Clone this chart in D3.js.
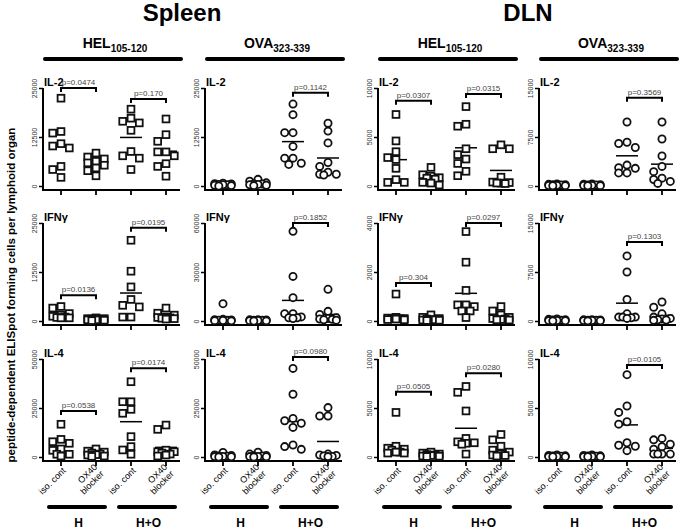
<!DOCTYPE html>
<html>
<head>
<meta charset="utf-8">
<script src="https://d3js.org/d3.v7.min.js"></script>
<style>
body { margin:0; background:#fff; }
svg { display:block; font-family:"Liberation Sans", Arial, sans-serif; }
</style>
</head>
<body>
<script>

// labels
var organs = ["Spleen", "DLN"]
var peptides = [["HEL", "105-120"], ["OVA", "323-339"], ["HEL", "105-120"], ["OVA", "323-339"]]
var rowNames = ["IL-2", "IFN\u03b3", "IL-4"]
var groupLabels = [["iso. cont"], ["OX40", "blocker"], ["iso. cont"], ["OX40", "blocker"]]
var treatLabels = ["H", "H+O"]
var yTitle = "peptide-dependent ELISpot forming cells per lymphoid organ"

// axis maxima per row (Spleen HEL, Spleen OVA, DLN HEL, DLN OVA)
var yMaxIL2 = [25000, 25000, 10000, 15000]
var yMaxIFNg = [25000, 60000, 4000, 15000]
var yMaxIL4 = [50000, 50000, 10000, 10000]

// spots per organ, groups: H iso, H OX40, H+O iso, H+O OX40
var spleenHEL_IL2 = [
  [22400, 13900, 13500, 10800, 9700, 10200, 5000, 4200, 2200],
  [8400, 7400, 6900, 6300, 5900, 5300, 4600, 3900, 2600],
  [19600, 17300, 16500, 16100, 14200, 8800, 7700, 7100, 4200],
  [17100, 13100, 11400, 8700, 8700, 7700, 5700, 5000, 2500]]
var spleenOVA_IL2 = [
  [700, 500, 400, 300, 300, 200, 100, 600, 0],
  [1700, 1200, 800, 500, 300, 200, 100, 400, 600],
  [20900, 18200, 13600, 13600, 10100, 7100, 7100, 5800, 5500],
  [16000, 14000, 11000, 6000, 3500, 3000, 3000, 2800, 5000]]
var dlnHEL_IL2 = [
  [7300, 4600, 3500, 2900, 2700, 1800, 650, 370, 370],
  [1900, 1150, 1000, 850, 800, 700, 370, 300, 100],
  [8100, 6300, 6100, 3800, 3200, 2750, 2300, 1500, 1050],
  [4200, 3800, 3800, 900, 400, 300, 300, 250, 350]]
var dlnOVA_IL2 = [
  [300, 250, 200, 150, 100, 80, 50, 30, 200],
  [300, 250, 200, 150, 100, 80, 50, 30, 150],
  [9800, 6700, 6500, 5900, 3200, 2700, 2000, 2000, 2800],
  [9800, 7200, 4600, 3000, 2200, 1200, 700, 400, 1000]]

var spleenHEL_IFNg = [
  [3700, 3300, 1900, 1500, 1200, 1000, 800, 900, 800],
  [800, 600, 500, 400, 300, 300, 200, 100, 600],
  [20600, 12700, 8700, 5500, 4000, 3600, 1000, 1000],
  [3300, 2000, 1500, 1000, 800, 700, 600, 900, 500]]
var spleenOVA_IFNg = [
  [10600, 1000, 500, 800, 300, 200, 600, 400, 100],
  [800, 600, 500, 400, 300, 200, 100, 700, 0],
  [54900, 27300, 14300, 4500, 4500, 2500, 2000, 2000, 1500],
  [19400, 5900, 4000, 2000, 1500, 1200, 1000, 800, 500]]
var dlnHEL_IFNg = [
  [1100, 150, 100, 100, 80, 60, 50, 120, 90],
  [250, 150, 100, 80, 60, 50, 40, 30, 20],
  [3650, 2400, 1250, 660, 590, 660, 410, 410, 140],
  [590, 410, 250, 150, 100, 80, 60, 50, 40]]
var dlnOVA_IFNg = [
  [300, 200, 150, 100, 80, 60, 40, 20, 250],
  [200, 150, 120, 100, 80, 60, 40, 20, 180],
  [9960, 7500, 3300, 1100, 600, 600, 500, 400, 600],
  [2900, 2100, 1100, 600, 400, 300, 200, 150, 100]]

var spleenHEL_IL4 = [
  [16700, 9000, 7800, 7000, 4100, 3400, 1400, 500, 1400],
  [4100, 3000, 2500, 2000, 1500, 1200, 1000, 500, 300],
  [38400, 28200, 28200, 24300, 22300, 10400, 5300, 3600, 1400],
  [16300, 14100, 2700, 2700, 1000, 500, 3500, 2000, 1500]]
var spleenOVA_IL4 = [
  [2300, 1000, 500, 300, 200, 100, 800, 400, 0],
  [2400, 1500, 800, 500, 300, 200, 100, 0, 600],
  [45200, 32000, 19700, 18500, 17200, 15100, 6100, 5300, 3900],
  [25200, 20900, 20900, 1500, 1000, 500, 800, 300, 200]]
var dlnHEL_IL4 = [
  [4550, 1100, 900, 800, 700, 500, 400, 400, 500],
  [500, 400, 300, 250, 200, 150, 100, 80, 50],
  [7200, 6600, 4700, 1900, 1550, 1450, 1300, 1400, 300],
  [2300, 1750, 1100, 700, 500, 300, 200, 100, 150]]
var dlnOVA_IL4 = [
  [200, 150, 100, 80, 60, 40, 30, 20, 120],
  [200, 150, 100, 80, 60, 40, 30, 20, 120],
  [8400, 5200, 4550, 3600, 3350, 1450, 1200, 1100, 650],
  [1900, 1750, 1300, 1050, 800, 300, 300, 300, 300]]

// p-values: first group of the pair, text, bracket level (data units)
var pSpleenHEL_IL2 = [[0, "p=0.0474", 25000], [2, "p=0.170", 22200]]
var pSpleenOVA_IL2 = [[2, "p=0.1142", 23800]]
var pDlnHEL_IL2 = [[0, "p=0.0307", 8700], [2, "p=0.0315", 9400]]
var pDlnOVA_IL2 = [[2, "p=0.3569", 13500]]
var pSpleenHEL_IFNg = [[0, "p=0.0136", 6600], [2, "p=0.0195", 23800]]
var pSpleenOVA_IFNg = [[2, "p=0.1852", 60000]]
var pDlnHEL_IFNg = [[0, "p=0.304", 1550], [2, "p=0.0297", 4000]]
var pDlnOVA_IFNg = [[2, "p=0.1303", 12100]]
var pSpleenHEL_IL4 = [[0, "p=0.0538", 23500], [2, "p=0.0174", 45300]]
var pSpleenOVA_IL4 = [[2, "p=0.0980", 51000]]
var pDlnHEL_IL4 = [[0, "p=0.0505", 6650], [2, "p=0.0280", 8550]]
var pDlnOVA_IL4 = [[2, "p=0.0105", 9400]]

// table built from the arrays above
var values = [
  [spleenHEL_IL2, spleenOVA_IL2, dlnHEL_IL2, dlnOVA_IL2],
  [spleenHEL_IFNg, spleenOVA_IFNg, dlnHEL_IFNg, dlnOVA_IFNg],
  [spleenHEL_IL4, spleenOVA_IL4, dlnHEL_IL4, dlnOVA_IL4]]
var pvals = [
  [pSpleenHEL_IL2, pSpleenOVA_IL2, pDlnHEL_IL2, pDlnOVA_IL2],
  [pSpleenHEL_IFNg, pSpleenOVA_IFNg, pDlnHEL_IFNg, pDlnOVA_IFNg],
  [pSpleenHEL_IL4, pSpleenOVA_IL4, pDlnHEL_IL4, pDlnOVA_IL4]]
var yMax = [yMaxIL2, yMaxIFNg, yMaxIL4]

// layout
var colX = [43, 205, 378, 539]
var rowZero = [186, 321, 457]
var plotH = 98
var shape = ["square", "circle", "square", "circle"]

var svg = d3.select("body").append("svg")
.attr("width", 680)
.attr("height", 531)

svg.append("rect").attr("width", 680).attr("height", 531).attr("fill", "white")

// big titles
svg.selectAll(".organ")
.data(organs)
.enter()
.append("text")
.attr("class", "organ")
.attr("x", function(d, i) { return i == 0 ? 182 : 528 })
.attr("y", 21)
.attr("text-anchor", "middle")
.attr("font-size", 24)
.attr("font-weight", "bold")
.text(function(d) { return d })

// peptide headers + bars
peptides.forEach(function(p, c)
{
  var ax = colX[c]
  var t = svg.append("text")
  .attr("x", ax + 72)
  .attr("y", 48)
  .attr("text-anchor", "middle")
  .attr("font-size", 14)
  .attr("font-weight", "bold")
  t.append("tspan").text(p[0])
  t.append("tspan").attr("font-size", 10).attr("dy", 4).text(p[1])

  svg.append("line")
  .attr("x1", ax + 2).attr("x2", ax + 138)
  .attr("y1", 59).attr("y2", 59)
  .attr("stroke", "black").attr("stroke-width", 4).attr("stroke-linecap", "round")
})

// y title
svg.append("text")
.attr("transform", "translate(15,295) rotate(-90)")
.attr("text-anchor", "middle")
.attr("font-size", 11.5)
.attr("font-weight", "bold")
.text(yTitle)

function swarm(vals, y)
{
  var offs = [0, -8.3, 8.3, -4.2, 4.2]
  var placed = []
  var sorted = vals.slice().sort(function(a, b) { return b - a })
  sorted.forEach(function(v)
  {
    var py = y(v)
    var best = 0, bestD = -1
    for (var k = 0; k < offs.length; k++)
    {
      var md = 1e9
      placed.forEach(function(q)
      {
        var dd = Math.hypot(q.dx - offs[k], q.py - py)
        if (dd < md) md = dd
      })
      if (md >= 7.5) { best = offs[k]; bestD = md; break }
      if (md > bestD) { bestD = md; best = offs[k] }
    }
    placed.push({v: v, dx: best, py: py})
  })
  return placed
}

function drawPanel(r, c)
{
  var ax = colX[c]
  var zero = rowZero[r]
  var max = yMax[r][c]
  var g = svg.append("g")

  var y = d3.scaleLinear().domain([0, max]).range([zero, zero - plotH])
  var x = d3.scalePoint().domain([0, 1, 2, 3]).range([ax + 18, ax + 123])

  // y axis
  var yAxis = d3.axisLeft(y).tickValues([0, max / 2, max]).tickSize(4).tickSizeOuter(0).tickFormat(d3.format("d"))
  var ga = g.append("g").attr("transform", "translate(" + ax + ",0)").call(yAxis)
  ga.select(".domain").remove()
  ga.selectAll(".tick line").attr("stroke", "black").attr("stroke-width", 1.5)
  ga.selectAll(".tick text")
  .attr("x", 0).attr("y", -6).attr("dy", null)
  .attr("text-anchor", "middle")
  .attr("transform", "rotate(-90)")
  .attr("font-size", 7)
  .attr("font-family", "'Liberation Sans', Arial, sans-serif")
  .attr("fill", "#333")

  g.append("line")
  .attr("x1", ax).attr("x2", ax)
  .attr("y1", y(max)).attr("y2", zero + 5)
  .attr("stroke", "black").attr("stroke-width", 2)

  // x axis
  g.append("line")
  .attr("x1", ax - 1).attr("x2", ax + 137)
  .attr("y1", zero + 4).attr("y2", zero + 4)
  .attr("stroke", "black").attr("stroke-width", 2)
  g.selectAll(".xt")
  .data(x.domain())
  .enter()
  .append("line")
  .attr("x1", function(d) { return x(d) }).attr("x2", function(d) { return x(d) })
  .attr("y1", zero + 4).attr("y2", zero + 9)
  .attr("stroke", "black").attr("stroke-width", 1.8)

  // row label
  g.append("text")
  .attr("x", ax + 1).attr("y", y(max) - 2)
  .attr("font-size", 11).attr("font-weight", "bold")
  .text(rowNames[r])

  // means
  values[r][c].forEach(function(vals, i)
  {
    var m = d3.mean(vals)
    g.append("line")
    .attr("x1", x(i) - 11).attr("x2", x(i) + 11)
    .attr("y1", y(m)).attr("y2", y(m))
    .attr("stroke", "black").attr("stroke-width", 1.5)
  })

  // points
  values[r][c].forEach(function(vals, i)
  {
    var pts = swarm(vals, y)
    if (shape[c] == "square")
    {
      g.selectAll(".p" + i)
      .data(pts)
      .enter()
      .append("rect")
      .attr("x", function(d) { return x(i) + d.dx - 3.4 })
      .attr("y", function(d) { return d.py - 3.4 })
      .attr("width", 6.8).attr("height", 6.8)
      .attr("fill", "white").attr("stroke", "#111").attr("stroke-width", 1.8)
    }
    else
    {
      g.selectAll(".p" + i)
      .data(pts)
      .enter()
      .append("circle")
      .attr("cx", function(d) { return x(i) + d.dx })
      .attr("cy", function(d) { return d.py })
      .attr("r", 3.6)
      .attr("fill", "white").attr("stroke", "#111").attr("stroke-width", 1.8)
    }
  })

  // p brackets
  pvals[r][c].forEach(function(p)
  {
    var x1 = x(p[0]), x2 = x(p[0] + 1), by = y(p[2])
    g.append("path")
    .attr("d", "M" + x1 + "," + (by + 4) + "V" + by + "H" + x2 + "V" + (by + 4))
    .attr("fill", "none").attr("stroke", "black").attr("stroke-width", 2)
    g.append("text")
    .attr("x", (x1 + x2) / 2).attr("y", by - 3)
    .attr("text-anchor", "middle")
    .attr("font-size", 8).attr("fill", "#444")
    .text(p[1])
  })

  // bottom labels
  if (r == 2)
  {
    groupLabels.forEach(function(lines, i)
    {
      var t = g.append("text")
      .attr("transform", "translate(" + (x(i) + 3) + "," + (zero + 12) + ") rotate(-45)")
      .attr("text-anchor", "end")
      .attr("font-size", 9)
      lines.forEach(function(s, k)
      {
        t.append("tspan").attr("x", 0)
        .attr("dy", k == 0 ? (lines.length > 1 ? "-0.2em" : "0.35em") : "1.05em")
        .text(s)
      })
    })
    treatLabels.forEach(function(s, j)
    {
      var a = x(j * 2), b = x(j * 2 + 1)
      g.append("line")
      .attr("x1", a - 12).attr("x2", b + 9)
      .attr("y1", 507).attr("y2", 507)
      .attr("stroke", "black").attr("stroke-width", 4).attr("stroke-linecap", "round")
      g.append("text")
      .attr("x", (a + b) / 2).attr("y", 527)
      .attr("text-anchor", "middle")
      .attr("font-size", 12).attr("font-weight", "bold")
      .text(s)
    })
  }
}

for (var r = 0; r < 3; r++)
{
  for (var c = 0; c < 4; c++)
  {
    drawPanel(r, c)
  }
}

</script>
</body>
</html>
